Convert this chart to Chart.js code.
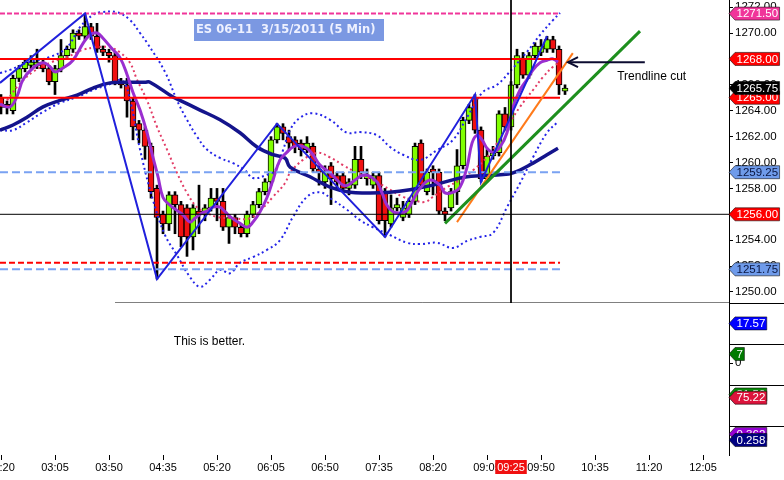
<!DOCTYPE html>
<html>
<head>
<meta charset="utf-8">
<script src="https://cdn.jsdelivr.net/npm/chart.js@4.4.1/dist/chart.umd.min.js"></script>
<style>
  html, body { margin: 0; padding: 0; background: #fff; }
  #wrap { width: 784px; height: 480px; }
</style>
</head>
<body>
<div id="wrap"><canvas id="chart"></canvas></div>
<script>
// ES 06-11, 3/15/2011, 5 min bars. Bar 0 = 02:20, bar 85 = 09:25
const open = [1265.00, 1264.50, 1264.00, 1266.50, 1267.25, 1267.50, 1267.50, 1267.75, 1267.25, 1266.25,
  1267.25, 1268.25, 1268.75, 1270.00, 1269.75, 1270.50, 1269.75, 1268.75, 1268.50, 1268.25,
  1266.25, 1266.00, 1264.75, 1263.00, 1262.50, 1261.25, 1258.00, 1256.00, 1255.25, 1257.50,
  1256.75, 1256.50, 1254.25, 1256.25, 1256.00, 1256.50, 1257.25, 1257.00, 1255.00, 1255.75,
  1255.00, 1254.50, 1256.00, 1256.75, 1257.75, 1258.50, 1261.75, 1262.75, 1262.00, 1261.75,
  1261.50, 1261.00, 1261.25, 1259.50, 1258.50, 1259.75, 1259.00, 1259.00, 1258.00, 1258.25,
  1260.25, 1258.75, 1258.25, 1259.00, 1257.75, 1255.25, 1256.50, 1255.75, 1256.00, 1257.00,
  1261.50, 1257.75, 1259.50, 1259.25, 1256.25, 1256.50, 1257.75, 1259.75, 1263.25, 1265.00,
  1262.50, 1258.75, 1260.50, 1260.75, 1263.75, 1262.75, 1266.00, 1268.00, 1266.75, 1268.25,
  1268.50, 1268.75, 1269.50, 1268.75, 1265.50];
const high = [1265.25, 1264.75, 1266.75, 1267.50, 1268.00, 1268.25, 1268.75, 1268.00, 1267.50, 1267.50,
  1269.50, 1269.00, 1270.25, 1270.25, 1271.50, 1270.75, 1270.75, 1269.00, 1268.75, 1268.50,
  1266.50, 1266.50, 1265.00, 1263.25, 1262.75, 1261.50, 1258.25, 1256.25, 1257.75, 1257.75,
  1257.00, 1256.75, 1256.75, 1258.25, 1256.75, 1258.00, 1258.00, 1258.00, 1256.00, 1256.00,
  1255.25, 1256.25, 1257.00, 1258.00, 1258.75, 1262.00, 1263.00, 1263.00, 1262.50, 1262.00,
  1261.75, 1262.00, 1261.50, 1259.75, 1259.75, 1260.00, 1259.25, 1259.25, 1258.75, 1261.25,
  1261.25, 1259.50, 1259.25, 1259.25, 1258.00, 1257.50, 1257.25, 1257.00, 1257.25, 1261.50,
  1261.75, 1259.50, 1259.75, 1259.50, 1256.50, 1258.00, 1261.00, 1263.50, 1264.50, 1265.25,
  1262.75, 1261.00, 1261.25, 1264.00, 1264.25, 1266.25, 1268.75, 1268.50, 1268.50, 1269.25,
  1269.50, 1269.75, 1269.75, 1269.00, 1266.00];
const low = [1263.75, 1263.75, 1263.75, 1266.25, 1267.00, 1267.25, 1267.25, 1267.00, 1266.00, 1265.25,
  1267.00, 1268.00, 1268.50, 1269.50, 1269.50, 1269.50, 1268.50, 1268.25, 1267.75, 1266.00,
  1265.75, 1263.50, 1261.75, 1261.50, 1260.25, 1257.25, 1251.00, 1254.50, 1254.75, 1254.50,
  1253.50, 1252.75, 1253.25, 1254.50, 1255.50, 1256.25, 1255.50, 1254.75, 1253.75, 1254.50,
  1254.25, 1254.25, 1255.75, 1256.50, 1257.50, 1258.25, 1261.50, 1261.75, 1261.00, 1260.75,
  1260.50, 1260.75, 1259.25, 1258.25, 1258.00, 1256.75, 1258.00, 1257.75, 1257.50, 1258.00,
  1258.75, 1258.25, 1258.00, 1255.25, 1254.25, 1255.00, 1256.25, 1255.50, 1255.75, 1256.75,
  1258.00, 1257.50, 1257.50, 1256.00, 1255.50, 1256.25, 1256.75, 1259.50, 1263.00, 1262.25,
  1258.50, 1258.50, 1260.25, 1260.50, 1262.50, 1262.50, 1265.75, 1266.50, 1266.50, 1268.00,
  1268.25, 1268.50, 1268.50, 1265.25, 1265.25];
const close = [1264.25, 1264.25, 1266.50, 1267.25, 1267.75, 1267.75, 1267.75, 1267.25, 1266.25, 1267.25,
  1268.25, 1268.75, 1270.00, 1269.75, 1270.50, 1269.75, 1268.75, 1268.50, 1268.25, 1266.25,
  1266.00, 1264.75, 1262.75, 1262.50, 1261.25, 1257.75, 1255.75, 1255.25, 1257.50, 1256.75,
  1254.25, 1254.25, 1256.50, 1256.00, 1256.50, 1257.25, 1257.00, 1255.00, 1255.75, 1255.00,
  1254.50, 1256.00, 1256.75, 1257.75, 1258.50, 1261.75, 1262.75, 1262.25, 1261.50, 1261.25,
  1261.00, 1261.50, 1259.50, 1259.25, 1259.25, 1258.75, 1258.50, 1258.00, 1258.50, 1260.25,
  1259.25, 1259.00, 1259.00, 1255.50, 1255.50, 1256.50, 1256.75, 1256.50, 1257.00, 1261.25,
  1258.25, 1259.25, 1259.25, 1256.25, 1256.00, 1257.75, 1259.75, 1263.25, 1264.25, 1262.50,
  1258.75, 1260.50, 1260.75, 1263.75, 1262.75, 1266.00, 1268.25, 1266.75, 1268.25, 1269.00,
  1269.00, 1269.50, 1268.75, 1266.00, 1265.75];

// x axis labels (bar index of each label)
const tickBars = [0, 9, 18, 27, 36, 45, 54, 63, 72, 81, 90, 99, 108, 117];
const tickTimes = ['02:20', '03:05', '03:50', '04:35', '05:20', '06:05', '06:50', '07:35',
  '08:20', '09:05', '09:50', '10:35', '11:20', '12:05'];
const priceTicks = [1250, 1252, 1254, 1256, 1258, 1260, 1262, 1264, 1266, 1268, 1270, 1272];
const cursorBar = 85;
const cursorTime = '09:25';

// overlays, [bar, price]
const fastAvg = [[-0.17, 1264.5], [1.5, 1264.3], [2.67, 1265.1], [3.67, 1266.4], [5.33, 1267.3], [7, 1267.7],
  [8.17, 1267.4], [9, 1267.0], [10.33, 1267.3], [12, 1267.9], [13.67, 1269.2], [14.83, 1269.85], [16, 1270.0],
  [17, 1269.6], [18.67, 1268.7], [19.83, 1268.1], [21, 1266.8], [22, 1265.4], [23.17, 1264.05], [24.33, 1262.3],
  [25.33, 1260.4], [26.17, 1258.9], [27, 1257.3], [28.17, 1256.7], [29.33, 1256.3], [30.33, 1255.95], [31.5, 1255.4],
  [32.33, 1255.7], [33.5, 1256.1], [34.33, 1256.25], [35.33, 1256.55], [36.5, 1256.55], [37.33, 1256.2],
  [38.5, 1255.7], [39.83, 1255.3], [41, 1255.0], [42, 1255.4], [43.17, 1256.2], [44.33, 1257.3], [45.33, 1258.65],
  [46.5, 1260.2], [47.67, 1260.8], [48.67, 1261.2], [49.83, 1261.3], [51, 1261.1], [52, 1260.6], [53.17, 1259.8],
  [54.83, 1259.2], [56, 1258.65], [57, 1258.25], [57.83, 1258.25], [59, 1258.65], [60.17, 1259.0], [61.17, 1259.0],
  [62.67, 1258.5], [63.5, 1257.65], [64.33, 1256.7], [65.33, 1256.2], [66.5, 1256.1], [67.67, 1256.3],
  [68.67, 1257.1], [69.83, 1258.0], [71.5, 1258.65], [73.17, 1258.25], [74, 1257.65], [75.33, 1257.7],
  [76.5, 1258.1], [77.67, 1259.65], [78.5, 1261.5], [79.33, 1262.1], [80.17, 1261.75], [81, 1261.1], [82, 1260.8],
  [83.17, 1261.2], [84.33, 1262.3], [85.33, 1264.3], [86.5, 1265.6], [87.67, 1266.4], [88.67, 1267.15],
  [89.83, 1267.7], [91, 1267.9], [92, 1268.0], [92.83, 1267.75]];
const midAvg = [[1, 1264.8], [3.17, 1266.1], [5.33, 1267.0], [8.17, 1267.7], [11, 1268.15], [13.67, 1268.7],
  [16, 1268.9], [18.17, 1268.9], [19.83, 1268.5], [21.5, 1267.7], [22.67, 1266.4], [24.33, 1264.8], [26, 1262.75],
  [27.67, 1261.0], [29.33, 1259.2], [31, 1257.65], [32.67, 1256.55], [34.33, 1256.1], [36, 1255.8], [38.67, 1255.7],
  [41.5, 1255.7], [43.67, 1256.5], [45.33, 1257.35], [47.33, 1258.4], [48.17, 1259.2], [50.33, 1260.2],
  [52.67, 1260.75], [54.83, 1260.4], [57, 1259.8], [59.33, 1259.2], [62, 1258.65], [64.83, 1257.9], [67, 1257.35],
  [68.67, 1257.1], [70.67, 1256.95], [72, 1257.35], [74.33, 1258.1], [76.5, 1258.65], [78.67, 1259.4], [81, 1260.4],
  [82.67, 1261.5], [84.33, 1262.75], [86.5, 1264.3], [88.67, 1265.6], [90.33, 1266.6], [92, 1267.4], [93.17, 1267.75]];
const slowAvg = [[-0.17, 1262.5], [2, 1262.9], [4.33, 1263.5], [7, 1264.3], [9.83, 1264.8], [12.67, 1265.2],
  [15.33, 1265.75], [18.17, 1266.15], [21, 1266.2], [24, 1266.2], [24.83, 1266.2], [28.67, 1265.05], [29.83, 1264.8],
  [33.17, 1264.05], [36.5, 1263.3], [39.83, 1262.3], [42.67, 1261.2], [45.33, 1260.6], [47.33, 1260.35],
  [48.17, 1259.65], [51.5, 1258.9], [54.83, 1258.1], [58.17, 1257.7], [61.5, 1257.65], [64.83, 1257.7],
  [68.17, 1257.9], [72, 1258.25], [77.67, 1258.9], [83.17, 1259.05], [85.33, 1259.2], [88.67, 1259.95],
  [91, 1260.6], [92.83, 1261.1]];
const upperBand = [[-0.17, 1266.9], [1.5, 1267.15], [4.33, 1267.7], [8.17, 1268.15], [11, 1268.9], [13.17, 1270.45],
  [15.33, 1271.4], [16.5, 1271.6], [19.33, 1271.6], [21.5, 1271.0], [23.17, 1270.0], [24.33, 1269.25], [27.33, 1267.0],
  [29.33, 1264.8], [31, 1263.3], [32.67, 1262.0], [34.33, 1261.0], [36.5, 1260.35], [38.67, 1259.95], [40.67, 1259.4],
  [42, 1258.8], [44.33, 1259.05], [45.67, 1259.4], [47, 1260.95], [48.17, 1262.5], [49.83, 1263.45], [52, 1263.8],
  [54.83, 1263.3], [57.67, 1262.3], [59.83, 1262.35], [62.67, 1262.1], [64.83, 1261.2], [67, 1260.6], [69.83, 1260.2],
  [72.67, 1260.95], [75.33, 1261.75], [77.67, 1263.5], [80.33, 1265.45], [82.67, 1266.0], [85.33, 1267.3],
  [87.67, 1268.55], [89.83, 1269.85], [92, 1271.0], [93.17, 1271.55]];
const lowerBand = [[-0.17, 1262.5], [2, 1262.5], [4.33, 1263.1], [7, 1263.9], [9.83, 1264.6], [12.67, 1265.05],
  [15.33, 1265.6], [18.17, 1266.05], [20.17, 1266.35], [21.5, 1264.85], [23.17, 1261.0], [25.33, 1257.1],
  [27.33, 1254.4], [29.33, 1252.85], [31.5, 1251.15], [33.17, 1250.4], [34.83, 1250.95], [36.5, 1251.7],
  [38.17, 1251.45], [39.83, 1252.25], [42, 1252.7], [44.33, 1253.25], [46.5, 1254.0], [48.67, 1255.8], [51, 1257.35],
  [53.17, 1257.7], [55.33, 1257.1], [57.67, 1256.35], [59.83, 1255.55], [62, 1255.0], [64.83, 1254.4],
  [67.67, 1253.8], [69.83, 1253.7], [72.67, 1253.8], [75.33, 1253.4], [77.67, 1253.95], [79.83, 1254.25],
  [82, 1254.55], [84.33, 1256.55], [86.5, 1258.4], [88.67, 1260.4], [91, 1262.3], [92.83, 1263.15]];
const zigzag = [[-0.17, 1266.15], [14, 1271.5], [26, 1251.0], [46, 1263.0], [64, 1254.25], [79, 1265.25],
  [80, 1258.5], [91, 1269.75]];
const greenTrend = [[74, 1255.3], [106.5, 1270.15]];
const orangeTrend = [[76, 1255.4], [95.3, 1268.45]];

// horizontal levels: pink, red, red, light blue, red dashed, light blue
const levelValues = [1271.5, 1268, 1265, 1259.25, 1252.25, 1251.75];
const levelEnd = 93.17;
const blackLevel = 1256;

// price tags on the right axis
const tagValues = [1271.5, 1268, 1265, 1265.75, 1259.25, 1256, 1251.75];
// indicator tags in the lower panes
const subTagValues = [17.57, 7, 81.5, 75.22, 0.362, 0.258];
const subTagLabels = ['17.57', '7', '81.50', '75.22', '0.362', '0.258'];
const subTagScales = ['yv', 'yc', 'yr', 'yr', 'ym', 'ym'];

const arrowFrom = [107.3, 1267.75];
const arrowTo = [94.5, 1267.75];

const FONT = '"Liberation Sans", Arial, sans-serif';
Chart.defaults.font.family = FONT;
Chart.defaults.color = '#000';

const upColor = '#80ff00';
const downColor = '#f01010';
const levelColors = ['#f0359a', '#ff0000', '#ff0000', '#7aa2f2', '#ff0000', '#7aa2f2'];
const levelDash = [[5, 2], [], [], [8, 4], [6, 3], [8, 4]];
const tagColors = ['#f0359a', '#ff0000', '#ff0000', '#000000', '#6f9bea', '#ff0000', '#6f9bea'];
const tagText = ['#fff', '#fff', '#fff', '#fff', '#0a1640', '#fff', '#0a1640'];
const subTagColors = ['#0000ff', '#007a00', '#0a8a0a', '#dc143c', '#9400d3', '#000080'];

const toXY = arr => arr.map(p => ({ x: p[0], y: p[1] }));

function lineSet(data, color, width, dash, order, tension) {
  return {
    type: 'line', data: toXY(data), borderColor: color, borderWidth: width,
    borderDash: dash, pointRadius: 0, tension: tension || 0, order: order, fill: false
  };
}

const datasets = [];

datasets.push({
  type: 'bar', label: 'wick', order: 20, grouped: false,
  data: low.map((l, i) => ({ x: i, y: [l, high[i]] })),
  backgroundColor: '#000', barThickness: 2, borderWidth: 0
});
datasets.push({
  type: 'bar', label: 'body', order: 19, grouped: false,
  data: open.map((o, i) => ({ x: i, y: [o, close[i]] })),
  backgroundColor: open.map((o, i) => close[i] >= o ? upColor : downColor),
  borderColor: '#000', borderWidth: 1, borderSkipped: false, barThickness: 6
});

datasets.push(lineSet(upperBand, '#2424e8', 2, [2, 3], 8, 0.4));
datasets.push(lineSet(lowerBand, '#2424e8', 2, [2, 3], 8, 0.4));
datasets.push(lineSet(midAvg, '#e23c66', 2, [2, 3], 7, 0.4));
datasets.push(lineSet(slowAvg, '#14148c', 3.5, [], 6, 0.4));
datasets.push(lineSet(fastAvg, '#9a2fd0', 3, [], 5, 0.4));

levelValues.forEach((v, k) => {
  datasets.push(lineSet([[-0.17, v], [levelEnd, v]], levelColors[k], 2, levelDash[k], 4));
});
datasets.push(lineSet([[-0.17, blackLevel], [121.4, blackLevel]], '#000', 1, [], 1));

datasets.push(lineSet(zigzag, '#2020dc', 2, [], 3));
datasets.push(lineSet(greenTrend, '#1e8f1e', 3, [], 2));
datasets.push(lineSet(orangeTrend, '#ff7a1a', 2, [], 2));

// cursor and lower edge of the price pane
datasets.push(lineSet([[cursorBar, 1272.6], [cursorBar, 1248.9]], '#000', 1, [], 1));
datasets.push(lineSet([[19, 1249.15], [121.4, 1249.15]], '#000', 1, [], 1));
datasets.push(lineSet([arrowFrom, arrowTo], '#0c0c30', 2, [], 1));

function drawTag(ctx, x, y, text, bg, fg) {
  ctx.font = '11.5px ' + FONT;
  const w = ctx.measureText(text).width;
  const h = 13;
  const right = x + 8 + w + 1;
  ctx.beginPath();
  ctx.moveTo(x, y);
  ctx.lineTo(x + 6, y - h / 2);
  ctx.lineTo(right, y - h / 2);
  ctx.lineTo(right, y + h / 2);
  ctx.lineTo(x + 6, y + h / 2);
  ctx.closePath();
  ctx.fillStyle = bg;
  ctx.fill();
  ctx.strokeStyle = 'rgba(0,0,0,0.55)';
  ctx.lineWidth = 1;
  ctx.stroke();
  ctx.fillStyle = fg;
  ctx.textAlign = 'left';
  ctx.textBaseline = 'middle';
  ctx.fillText(text, x + 7.5, y + 0.5);
}

const overlay = {
  id: 'overlay',
  afterDatasetsDraw(chart) {
    const ctx = chart.ctx;
    const area = chart.chartArea;
    const sx = chart.scales.x, sy = chart.scales.y;
    ctx.save();

    // title box
    ctx.fillStyle = '#7b98e2';
    ctx.fillRect(area.left + 194, area.top + 19, 190, 22);
    ctx.font = 'bold 11.5px "DejaVu Sans", Verdana, sans-serif';
    ctx.fillStyle = '#eef1ff';
    ctx.textAlign = 'left';
    ctx.textBaseline = 'middle';
    ctx.fillText('ES 06-11  3/15/2011 (5 Min)', area.left + 196, area.top + 30.5);

    // arrow head
    const tx = sx.getPixelForValue(arrowTo[0]), ty = sy.getPixelForValue(arrowTo[1]);
    ctx.strokeStyle = '#0c0c30';
    ctx.lineWidth = 2;
    ctx.beginPath();
    ctx.moveTo(tx + 10, ty - 5);
    ctx.lineTo(tx, ty);
    ctx.lineTo(tx + 10, ty + 5);
    ctx.stroke();

    // notes
    ctx.font = '12px ' + FONT;
    ctx.fillStyle = '#000';
    ctx.fillText('Trendline cut', sx.getPixelForValue(102.7), sy.getPixelForValue(1266.6));
    ctx.fillText('This is better.', sx.getPixelForValue(28.8), chart.scales.yv.bottom - 2);
    ctx.restore();
  },
  afterDraw(chart) {
    const ctx = chart.ctx;
    const area = chart.chartArea;
    ctx.save();

    // pane separators on the axis side
    ctx.strokeStyle = '#000';
    ctx.lineWidth = 1;
    ['yv', 'yc', 'yr', 'ym'].forEach(id => {
      const t = Math.round(chart.scales[id].top) + 0.5;
      ctx.beginPath();
      ctx.moveTo(area.right, t);
      ctx.lineTo(chart.width, t);
      ctx.stroke();
    });

    tagValues.forEach((v, k) => {
      drawTag(ctx, area.right, chart.scales.y.getPixelForValue(v), v.toFixed(2), tagColors[k], tagText[k]);
    });
    subTagValues.forEach((v, k) => {
      drawTag(ctx, area.right, chart.scales[subTagScales[k]].getPixelForValue(v), subTagLabels[k], subTagColors[k], '#fff');
    });

    // cursor time on the x axis
    const cx = chart.scales.x.getPixelForValue(cursorBar);
    ctx.font = '11px ' + FONT;
    const w = ctx.measureText(cursorTime).width + 4;
    ctx.fillStyle = '#f01010';
    ctx.fillRect(cx - w / 2, area.bottom + 5, w, 14);
    ctx.fillStyle = '#fff';
    ctx.textAlign = 'center';
    ctx.textBaseline = 'middle';
    ctx.fillText(cursorTime, cx, area.bottom + 12.5);
    ctx.restore();
  }
};

// no automatic padding: labels may run off the canvas edge like the original
function noPad(s) {
  s.paddingLeft = 0; s.paddingRight = 0; s.paddingTop = 0; s.paddingBottom = 0;
}

function paneScale(min, max, weight) {
  return {
    type: 'linear', position: 'right', stack: 'panes', stackWeight: weight,
    min: min, max: max,
    grid: { drawOnChartArea: false, drawTicks: false },
    border: { display: true, color: '#000' },
    ticks: { display: false },
    afterFit: s => { s.width = 55; noPad(s); }
  };
}

const ycScale = paneScale(-17.1, 14.8, 41);
ycScale.grid = { drawOnChartArea: false, drawTicks: true, tickLength: 4, color: '#000' };
ycScale.ticks = { display: true, autoSkip: false, padding: 2, font: { size: 11.5 }, color: '#000', callback: v => String(v) };
ycScale.afterBuildTicks = s => { s.ticks = [{ value: 0 }]; };

new Chart(document.getElementById('chart'), {
  type: 'bar',
  data: { datasets },
  options: {
    responsive: true,
    maintainAspectRatio: false,
    animation: false,
    layout: { padding: 0, autoPadding: false },
    plugins: { legend: { display: false }, tooltip: { enabled: false }, title: { display: false } },
    scales: {
      x: {
        type: 'linear', min: -0.1667, max: 121.33, offset: false,
        grid: { drawOnChartArea: false, drawTicks: true, tickLength: 5, color: '#000', offset: false },
        border: { display: false },
        ticks: {
          autoSkip: false, maxRotation: 0, padding: 1, font: { size: 11 }, color: '#000',
          callback: (v, i) => tickTimes[i]
        },
        afterBuildTicks: s => { s.ticks = tickBars.map(v => ({ value: v })); },
        afterFit: s => { s.height = 25; noPad(s); }
      },
      y: {
        type: 'linear', position: 'right', stack: 'panes', stackWeight: 303,
        min: 1249.15, max: 1272.55,
        grid: { drawOnChartArea: false, drawTicks: true, tickLength: 4, color: '#000' },
        border: { display: true, color: '#000' },
        ticks: { autoSkip: false, padding: 2, font: { size: 11.5 }, color: '#000', callback: v => v.toFixed(2) },
        afterBuildTicks: s => { s.ticks = priceTicks.map(v => ({ value: v })); },
        afterFit: s => { s.width = 55; noPad(s); }
      },
      yv: paneScale(0, 35, 41),
      yc: ycScale,
      yr: paneScale(20, 100, 41),
      ym: paneScale(0, 0.5, 29)
    }
  },
  plugins: [overlay]
});
</script>
</body>
</html>
